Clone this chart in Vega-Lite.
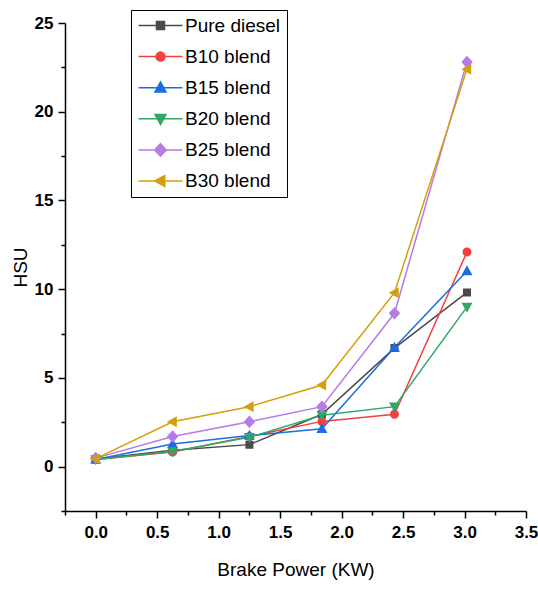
{
  "$schema": "https://vega.github.io/schema/vega-lite/v6.json",
  "width": 461,
  "height": 488,
  "autosize": {"type": "none"},
  "padding": {"left": 65, "top": 23, "right": 12, "bottom": 79},
  "background": "white",
  "config": {"view": {"stroke": null}, "axis": {"grid": false}},
  "data": {"values": [
    {"series": "Pure diesel", "power": 0, "hsu": 0.43},
    {"series": "Pure diesel", "power": 0.625, "hsu": 0.92},
    {"series": "Pure diesel", "power": 1.25, "hsu": 1.24},
    {"series": "Pure diesel", "power": 1.84, "hsu": 2.95},
    {"series": "Pure diesel", "power": 2.43, "hsu": 6.68},
    {"series": "Pure diesel", "power": 3.02, "hsu": 9.82},
    {"series": "B10 blend", "power": 0, "hsu": 0.4},
    {"series": "B10 blend", "power": 0.625, "hsu": 0.83},
    {"series": "B10 blend", "power": 1.25, "hsu": 1.7},
    {"series": "B10 blend", "power": 1.84, "hsu": 2.55},
    {"series": "B10 blend", "power": 2.43, "hsu": 2.95},
    {"series": "B10 blend", "power": 3.02, "hsu": 12.1},
    {"series": "B15 blend", "power": 0, "hsu": 0.4},
    {"series": "B15 blend", "power": 0.625, "hsu": 1.28},
    {"series": "B15 blend", "power": 1.25, "hsu": 1.75},
    {"series": "B15 blend", "power": 1.84, "hsu": 2.13},
    {"series": "B15 blend", "power": 2.43, "hsu": 6.72},
    {"series": "B15 blend", "power": 3.02, "hsu": 11.02},
    {"series": "B20 blend", "power": 0, "hsu": 0.4},
    {"series": "B20 blend", "power": 0.625, "hsu": 0.85},
    {"series": "B20 blend", "power": 1.25, "hsu": 1.65},
    {"series": "B20 blend", "power": 1.84, "hsu": 2.9},
    {"series": "B20 blend", "power": 2.43, "hsu": 3.38},
    {"series": "B20 blend", "power": 3.02, "hsu": 9.0},
    {"series": "B25 blend", "power": 0, "hsu": 0.48},
    {"series": "B25 blend", "power": 0.625, "hsu": 1.7},
    {"series": "B25 blend", "power": 1.25, "hsu": 2.53},
    {"series": "B25 blend", "power": 1.84, "hsu": 3.38},
    {"series": "B25 blend", "power": 2.43, "hsu": 8.64},
    {"series": "B25 blend", "power": 3.02, "hsu": 22.8},
    {"series": "B30 blend", "power": 0, "hsu": 0.45},
    {"series": "B30 blend", "power": 0.625, "hsu": 2.53},
    {"series": "B30 blend", "power": 1.25, "hsu": 3.38},
    {"series": "B30 blend", "power": 1.84, "hsu": 4.6},
    {"series": "B30 blend", "power": 2.43, "hsu": 9.8},
    {"series": "B30 blend", "power": 3.02, "hsu": 22.4}
  ]},
  "encoding": {
    "x": {
      "field": "power", "type": "quantitative", "title": "Brake Power (KW)",
      "scale": {"domain": [-0.25, 3.5], "nice": false, "zero": false},
      "axis": {
        "values": [-0.25, 0, 0.25, 0.5, 0.75, 1, 1.25, 1.5, 1.75, 2, 2.25, 2.5, 2.75, 3, 3.25, 3.5],
        "labelExpr": "abs(datum.value*2 - round(datum.value*2)) < 0.001 ? format(datum.value, '.1f') : ''",
        "tickSize": {"condition": {"test": "abs(datum.value*2 - round(datum.value*2)) < 0.001", "value": 7}, "value": 4},
        "domainColor": "black", "domainWidth": 1.5, "tickColor": "black", "tickWidth": 1.5,
        "labelFont": "Liberation Sans", "labelFontSize": 17, "labelFontWeight": "bold", "labelColor": "black",
        "labelPadding": 6, "labelFlush": false, "labelOverlap": false,
        "titleFont": "Liberation Sans", "titleFontSize": 19, "titleFontWeight": "normal", "titleColor": "black", "titlePadding": 20
      }
    },
    "y": {
      "field": "hsu", "type": "quantitative", "title": "HSU",
      "scale": {"domain": [-2.5, 25], "nice": false, "zero": false},
      "axis": {
        "values": [-2.5, 0, 2.5, 5, 7.5, 10, 12.5, 15, 17.5, 20, 22.5, 25],
        "labelExpr": "abs(datum.value/5 - round(datum.value/5)) < 0.001 ? format(datum.value, 'd') : ''",
        "tickSize": {"condition": {"test": "abs(datum.value/5 - round(datum.value/5)) < 0.001", "value": 7}, "value": 4},
        "domainColor": "black", "domainWidth": 1.5, "tickColor": "black", "tickWidth": 1.5,
        "labelFont": "Liberation Sans", "labelFontSize": 17, "labelFontWeight": "bold", "labelColor": "black",
        "labelPadding": 5, "labelFlush": false, "labelOverlap": false,
        "titleFont": "Liberation Sans", "titleFontSize": 19, "titleFontWeight": "normal", "titleColor": "black", "titlePadding": 4
      }
    }
  },
  "layer": [
    {
      "mark": {"type": "line", "strokeWidth": 1.5},
      "encoding": {
        "stroke": {
          "field": "series", "type": "nominal", "legend": null,
          "sort": ["Pure diesel", "B10 blend", "B15 blend", "B20 blend", "B25 blend", "B30 blend"],
          "scale": {
            "range": ["#4a4a4a", "#f24040", "#1a6ee0", "#2fa866", "#b57be6", "#d4a00a"]
          }
        }
      }
    },
    {
      "mark": {"type": "point", "filled": true, "size": 100, "opacity": 1},
      "encoding": {
        "color": {
          "field": "series", "type": "nominal",
          "scale": {
            "domain": ["Pure diesel", "B10 blend", "B15 blend", "B20 blend", "B25 blend", "B30 blend"],
            "range": ["#4a4a4a", "#f24040", "#1a6ee0", "#2fa866", "#b57be6", "#d4a00a"]
          },
          "legend": {
            "title": null, "orient": "none", "legendX": 66, "legendY": -13, "padding": 6,
            "strokeColor": "black", "symbolSize": 100, "symbolStrokeWidth": 1.5, "symbolOpacity": 1,
            "symbolOffset": 14, "labelOffset": 15, "rowPadding": 11.1,
            "labelFont": "Liberation Sans", "labelFontSize": 19, "labelColor": "black",
            "encode": {"symbols": {"update": {"fill": {"scale": "color", "field": "value"}, "stroke": {"scale": "color", "field": "value"}, "strokeWidth": {"value": 1.5}, "opacity": {"value": 1}}}}
          }
        },
        "shape": {
          "field": "series", "type": "nominal",
          "scale": {
            "domain": ["Pure diesel", "B10 blend", "B15 blend", "B20 blend", "B25 blend", "B30 blend"],
            "range": [
              "M-4.4,0H4.4M-0.8,-0.8H0.8V0.8H-0.8Z",
              "M-4.4,0H4.4M-0.9,0A0.9,0.9,0,1,1,0.9,0A0.9,0.9,0,1,1,-0.9,0Z",
              "M-4.4,0H4.4M0,-1.15L1.1,0.85L-1.1,0.85Z",
              "M-4.4,0H4.4M0,1.15L1.1,-0.85L-1.1,-0.85Z",
              "M-4.4,0H4.4M0,-1.25L1.15,0L0,1.25L-1.15,0Z",
              "M-4.4,0H4.4M-1.15,0L0.85,-1.1L0.85,1.1Z"
            ]
          },
          "legend": {
            "title": null, "orient": "none", "legendX": 66, "legendY": -13, "padding": 6,
            "strokeColor": "black", "symbolSize": 100, "symbolStrokeWidth": 1.5, "symbolOpacity": 1,
            "symbolOffset": 14, "labelOffset": 15, "rowPadding": 11.1,
            "labelFont": "Liberation Sans", "labelFontSize": 19, "labelColor": "black",
            "encode": {"symbols": {"update": {"fill": {"scale": "color", "field": "value"}, "stroke": {"scale": "color", "field": "value"}, "strokeWidth": {"value": 1.5}, "opacity": {"value": 1}}}}
          }
        }
      }
    }
  ]
}
